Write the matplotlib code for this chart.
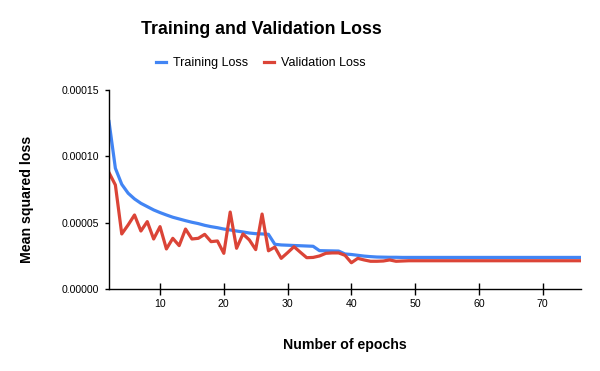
import matplotlib
matplotlib.use("Agg")
import matplotlib.pyplot as plt
import numpy as np

plt.rcParams['font.family'] = ['Liberation Sans', 'DejaVu Sans']

# epochs shown on the x axis
epochs = list(range(2, 77))

# training loss
train_loss = [0.0001262, 0.0000910, 0.0000789, 0.0000722, 0.0000679, 0.0000646, 0.0000621,
              0.0000596, 0.0000576, 0.0000558, 0.0000541, 0.0000528, 0.0000515, 0.0000503,
              0.0000493, 0.0000480, 0.0000470, 0.0000462, 0.0000452, 0.0000445, 0.0000437,
              0.0000430, 0.0000422, 0.0000417, 0.0000415, 0.0000412, 0.0000337, 0.0000332,
              0.0000330, 0.0000328, 0.0000326, 0.0000324, 0.0000322, 0.0000289, 0.0000288,
              0.0000287, 0.0000286, 0.0000264, 0.0000260, 0.0000254, 0.0000248, 0.0000244,
              0.0000241, 0.0000240, 0.0000239, 0.0000239, 0.0000238, 0.0000238, 0.0000238,
              0.0000238, 0.0000238, 0.0000238, 0.0000238, 0.0000238, 0.0000238, 0.0000238,
              0.0000238, 0.0000238, 0.0000238, 0.0000238, 0.0000238, 0.0000238, 0.0000238,
              0.0000238, 0.0000238, 0.0000238, 0.0000238, 0.0000238, 0.0000238, 0.0000238,
              0.0000238, 0.0000238, 0.0000238, 0.0000238, 0.0000238]

# validation loss
val_loss = [0.0000877, 0.0000784, 0.0000415, 0.0000483, 0.0000558, 0.0000437, 0.0000508,
            0.0000377, 0.0000470, 0.0000302, 0.0000382, 0.0000327, 0.0000452, 0.0000377,
            0.0000382, 0.0000412, 0.0000357, 0.0000362, 0.0000269, 0.0000580, 0.0000307,
            0.0000415, 0.0000370, 0.0000297, 0.0000565, 0.0000288, 0.0000316, 0.0000231,
            0.0000274, 0.0000319, 0.0000277, 0.0000236, 0.0000238, 0.0000249, 0.0000269,
            0.0000272, 0.0000272, 0.0000254, 0.0000198, 0.0000231, 0.0000219, 0.0000209,
            0.0000209, 0.0000211, 0.0000219, 0.0000209, 0.0000211, 0.0000213, 0.0000213,
            0.0000213, 0.0000213, 0.0000213, 0.0000213, 0.0000213, 0.0000213, 0.0000213,
            0.0000213, 0.0000213, 0.0000213, 0.0000213, 0.0000213, 0.0000213, 0.0000213,
            0.0000213, 0.0000213, 0.0000213, 0.0000213, 0.0000213, 0.0000213, 0.0000213,
            0.0000213, 0.0000213, 0.0000213, 0.0000213, 0.0000213]

x_ticks = [10, 20, 30, 40, 50, 60, 70]
y_ticks = [0.0, 0.00005, 0.0001, 0.00015]

fig = plt.figure(figsize=(6, 3.71), dpi=100)
ax = fig.add_axes([109/600, 1-289/371, 472/600, 199/371])

ax.plot(epochs, train_loss, color='#4285F4', lw=2.3, label='Training Loss', solid_joinstyle='round')
ax.plot(epochs, val_loss, color='#DB4437', lw=2.3, label='Validation Loss', solid_joinstyle='round')

ax.set_xlim(2, 76)
ax.set_ylim(0, 0.00015)
ax.set_xticks(x_ticks)
ax.set_yticks(y_ticks)
ax.set_yticklabels(['%.5f' % v for v in y_ticks])

ax.spines['top'].set_visible(False)
ax.spines['right'].set_visible(False)
ax.spines['left'].set_linewidth(1.0)
ax.spines['bottom'].set_linewidth(1.0)
ax.tick_params(axis='x', direction='inout', length=8.5, width=1, labelsize=7.6, pad=3)
ax.tick_params(axis='y', direction='out', length=3, width=1, labelsize=7.6, pad=4)

fig.text(261/600, 1-30/371, 'Training and Validation Loss', ha='center', va='center',
         fontsize=12.8, fontweight='bold')
fig.text(27/600, 1-199/371, 'Mean squared loss', ha='center', va='center',
         rotation=90, fontsize=10.2, fontweight='bold')
fig.text(345/600, 1-345/371, 'Number of epochs', ha='center', va='center',
         fontsize=10.2, fontweight='bold')

fig.legend(loc='center', bbox_to_anchor=(261/600, 1-63/371), ncol=2, frameon=False,
           fontsize=9, handlelength=0.75, handletextpad=0.6, columnspacing=1.3)

fig.savefig('out.png', dpi=100)
